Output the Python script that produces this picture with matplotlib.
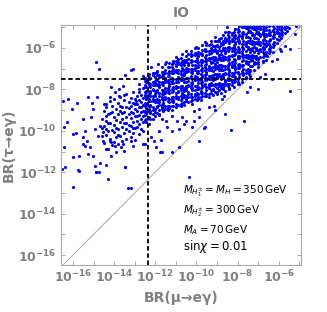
import numpy as np
import matplotlib.pyplot as plt
from matplotlib.ticker import FixedLocator, FuncFormatter

plt.rcParams['mathtext.fontset'] = 'dejavusans'

# values are log10 of the branching ratios
# left part of the cloud, in columns (one x per column)
left_x = [-14.6, -14.5, -14.4, -14.3, -14.2, -14.1, -14.0, -13.9, -13.8, -13.7,
          -13.6, -13.5, -13.4, -13.3, -13.2, -13.1, -13.0, -12.9, -12.8, -12.7,
          -12.6]
left_y = [
    [-9.43, -10.27, -9.88],
    [-9.04, -9.76, -10.61, -8.72],
    [-8.83, -9.52, -10.18, -9.27],
    [-9.21, -10.03, -10.87, -9.64],
    [-8.58, -9.63, -10.41, -9.12],
    [-9.07, -9.94, -10.69, -8.81],
    [-8.47, -9.32, -10.04, -10.53, -9.71],
    [-8.93, -9.48, -10.29, -9.86],
    [-8.66, -9.21, -9.93, -10.62, -10.18],
    [-8.38, -9.04, -9.57, -10.24, -8.79],
    [-8.84, -9.41, -9.82, -10.47, -9.13],
    [-8.53, -9.08, -9.63, -10.12, -8.26],
    [-8.22, -8.87, -9.34, -9.91, -10.38, -9.62],
    [-8.61, -9.17, -9.74, -10.02, -8.92],
    [-8.43, -8.81, -9.38, -9.79, -10.31, -9.07],
    [-8.12, -8.68, -9.13, -9.57, -10.09, -9.84],
    [-8.48, -8.93, -9.27, -9.88, -10.46, -8.71],
    [-8.31, -8.72, -9.03, -9.51, -9.82, -9.27],
    [-7.98, -8.52, -8.87, -9.23, -9.68, -10.17],
    [-8.27, -8.63, -9.08, -9.42, -9.91, -8.84],
    [-7.93, -8.41, -8.77, -9.28, -9.59, -10.02, -9.04],
]

# dense band, in columns
band_x = [-12.52, -12.43, -12.31, -12.24, -12.09, -12.02, -11.91, -11.83, -11.69, -11.62,
          -11.51, -11.38, -11.32, -11.19, -11.12, -10.98, -10.91, -10.77, -10.71, -10.62,
          -10.49, -10.41, -10.28, -10.22, -10.08, -9.99, -9.92, -9.78, -9.71, -9.59,
          -9.52, -9.38, -9.31, -9.21, -9.09, -9.02, -8.88, -8.81, -8.69, -8.62,
          -8.48, -8.41, -8.29, -8.19, -8.12, -7.98, -7.91, -7.79, -7.72, -7.58,
          -7.51, -7.39, -7.32, -7.18, -7.11, -6.99, -6.92, -6.78, -6.71, -6.61,
          -6.48, -6.41, -6.29, -6.22, -6.08, -6.01, -5.89, -5.82, -5.69, -5.61,
          -5.49]
band_y = [
    [-9.49, -9.24, -9.11, -9.02, -8.81, -8.65, -8.37, -8.26, -8.14, -7.87, -7.79, -7.60, -7.45],
    [-9.57, -9.45, -9.18, -9.10, -8.91, -8.76, -8.45, -8.35, -8.13, -8.06, -7.88, -7.63, -7.50],
    [-9.32, -9.04, -8.93, -8.81, -8.54, -8.46, -8.27, -8.12, -7.81, -7.71, -7.49, -7.42, -7.24],
    [-9.44, -9.13, -9.03, -8.81, -8.74, -8.56, -8.31, -8.18, -8.09, -7.88, -7.72, -7.44],
    [-9.20, -8.99, -8.83, -8.55, -8.44, -8.32, -8.05, -7.97, -7.78, -7.63, -7.32, -7.22],
    [-9.28, -9.09, -8.94, -8.63, -8.53, -8.31, -8.24, -8.06, -7.81, -7.68, -7.59, -7.38, -7.22],
    [-9.13, -8.86, -8.78, -8.59, -8.44, -8.13, -8.03, -7.81, -7.74, -7.56, -7.31, -7.18, -7.09],
    [-9.25, -9.18, -9.00, -8.75, -8.62, -8.53, -8.32, -8.16, -7.88, -7.77, -7.65, -7.38, -7.30],
    [-8.97, -8.86, -8.74, -8.47, -8.39, -8.20, -8.05, -7.74, -7.64, -7.42, -7.35, -7.17, -6.92],
    [-9.06, -8.96, -8.74, -8.67, -8.49, -8.24, -8.11, -8.02, -7.81, -7.65, -7.37, -7.26, -7.14],
    [-8.94, -8.79, -8.48, -8.38, -8.16, -8.09, -7.91, -7.66, -7.53, -7.44, -7.23, -7.07, -6.79],
    [-9.01, -8.88, -8.79, -8.58, -8.42, -8.14, -8.03, -7.91, -7.64, -7.56, -7.37, -7.22, -6.91],
    [-8.88, -8.80, -8.61, -8.46, -8.15, -8.05, -7.83, -7.76, -7.58, -7.33, -7.20, -7.11, -6.90, -6.74],
    [-9.00, -8.82, -8.57, -8.44, -8.35, -8.14, -7.98, -7.70, -7.59, -7.47, -7.20, -7.12, -6.93, -6.78],
    [-8.82, -8.60, -8.53, -8.35, -8.10, -7.97, -7.88, -7.67, -7.51, -7.23, -7.12, -7.00, -6.73, -6.65],
    [-8.85, -8.69, -8.41, -8.30, -8.18, -7.91, -7.83, -7.64, -7.49, -7.18, -7.08, -6.86, -6.79, -6.61],
    [-8.77, -8.46, -8.36, -8.14, -8.07, -7.89, -7.64, -7.51, -7.42, -7.21, -7.05, -6.77, -6.66, -6.54],
    [-8.79, -8.70, -8.49, -8.33, -8.05, -7.94, -7.82, -7.55, -7.47, -7.28, -7.13, -6.82, -6.72, -6.50],
    [-8.66, -8.41, -8.28, -8.19, -7.98, -7.82, -7.54, -7.43, -7.31, -7.04, -6.96, -6.77, -6.62, -6.31],
    [-8.74, -8.62, -8.35, -8.27, -8.08, -7.93, -7.62, -7.52, -7.30, -7.23, -7.05, -6.80, -6.67, -6.58],
    [-8.55, -8.48, -8.30, -8.05, -7.92, -7.83, -7.62, -7.46, -7.18, -7.07, -6.95, -6.68, -6.60, -6.41],
    [-8.63, -8.35, -8.24, -8.12, -7.85, -7.77, -7.58, -7.43, -7.12, -7.02, -6.80, -6.73, -6.55, -6.30],
    [-8.58, -8.37, -8.21, -7.93, -7.82, -7.70, -7.43, -7.35, -7.16, -7.01, -6.70, -6.60, -6.38, -6.31, -6.13],
    [-8.70, -8.51, -8.36, -8.05, -7.95, -7.73, -7.66, -7.48, -7.23, -7.10, -7.01, -6.80, -6.64, -6.36],
    [-8.44, -8.31, -8.22, -8.01, -7.85, -7.57, -7.46, -7.34, -7.07, -6.99, -6.80, -6.65, -6.34, -6.24, -6.02],
    [-8.51, -8.24, -8.16, -7.97, -7.82, -7.51, -7.41, -7.19, -7.12, -6.94, -6.69, -6.56, -6.47, -6.26],
    [-8.46, -8.35, -8.23, -7.96, -7.88, -7.69, -7.54, -7.23, -7.13, -6.91, -6.84, -6.66, -6.41, -6.28, -6.19, -5.98],
    [-8.49, -8.39, -8.17, -8.10, -7.92, -7.67, -7.54, -7.45, -7.24, -7.08, -6.80, -6.69, -6.57, -6.30, -6.22],
    [-8.33, -8.17, -7.89, -7.78, -7.66, -7.39, -7.31, -7.12, -6.97, -6.66, -6.56, -6.34, -6.27, -6.09, -5.84],
    [-8.32, -8.17, -7.86, -7.76, -7.54, -7.47, -7.29, -7.04, -6.91, -6.82, -6.61, -6.45, -6.17, -6.06],
    [-8.30, -8.22, -8.03, -7.88, -7.57, -7.47, -7.25, -7.18, -7.00, -6.75, -6.62, -6.53, -6.32, -6.16, -5.88, -5.77],
    [-8.38, -8.20, -7.95, -7.82, -7.73, -7.52, -7.36, -7.08, -6.97, -6.85, -6.58, -6.50, -6.31, -6.16, -5.85],
    [-8.17, -8.05, -7.78, -7.70, -7.51, -7.36, -7.05, -6.95, -6.73, -6.66, -6.48, -6.23, -6.10, -6.01, -5.80, -5.64],
    [-8.25, -8.03, -7.96, -7.78, -7.53, -7.40, -7.31, -7.10, -6.94, -6.66, -6.55, -6.43, -6.16, -6.08, -5.89],
    [-8.14, -7.83, -7.73, -7.51, -7.44, -7.26, -7.01, -6.88, -6.79, -6.58, -6.42, -6.14, -6.03, -5.91, -5.64],
    [-8.21, -8.12, -7.91, -7.75, -7.47, -7.36, -7.24, -6.97, -6.89, -6.70, -6.55, -6.24, -6.14, -5.92, -5.85, -5.67],
    [-8.02, -7.83, -7.68, -7.37, -7.27, -7.05, -6.98, -6.80, -6.55, -6.42, -6.33, -6.12, -5.96, -5.68, -5.57],
    [-8.19, -7.94, -7.81, -7.72, -7.51, -7.35, -7.07, -6.96, -6.84, -6.57, -6.49, -6.30, -6.15, -5.84, -5.74, -5.52],
    [-7.97, -7.90, -7.72, -7.47, -7.34, -7.25, -7.04, -6.88, -6.60, -6.49, -6.37, -6.10, -6.02, -5.83, -5.68, -5.37],
    [-8.06, -7.78, -7.67, -7.55, -7.28, -7.20, -7.01, -6.86, -6.55, -6.45, -6.23, -6.16, -5.98, -5.73, -5.60, -5.51],
    [-7.85, -7.75, -7.53, -7.46, -7.28, -7.03, -6.90, -6.81, -6.60, -6.44, -6.16, -6.05, -5.93, -5.66, -5.58, -5.39, -5.24],
    [-7.94, -7.73, -7.57, -7.29, -7.18, -7.06, -6.79, -6.71, -6.52, -6.37, -6.06, -5.96, -5.74, -5.67, -5.49, -5.24],
    [-7.78, -7.65, -7.56, -7.35, -7.19, -6.91, -6.80, -6.68, -6.41, -6.33, -6.14, -5.99, -5.68, -5.58, -5.36, -5.29],
    [-7.90, -7.63, -7.55, -7.36, -7.21, -6.90, -6.80, -6.58, -6.51, -6.33, -6.08, -5.95, -5.86, -5.65, -5.49, -5.21],
    [-7.59, -7.41, -7.16, -7.03, -6.94, -6.73, -6.57, -6.29, -6.18, -6.06, -5.79, -5.71, -5.52, -5.37, -5.06],
    [-7.73, -7.62, -7.50, -7.23, -7.15, -6.96, -6.81, -6.50, -6.40, -6.18, -6.11, -5.93, -5.68, -5.55, -5.46, -5.25, -5.09],
    [-7.42, -7.26, -6.98, -6.87, -6.75, -6.48, -6.40, -6.21, -6.06, -5.75, -5.65, -5.43, -5.36, -5.18, -4.93],
    [-7.66, -7.51, -7.20, -7.10, -6.88, -6.81, -6.63, -6.38, -6.25, -6.16, -5.95, -5.79, -5.51, -5.40, -5.28, -5.01],
    [-7.30, -7.21, -7.00, -6.84, -6.56, -6.45, -6.33, -6.06, -5.98, -5.79, -5.64, -5.33, -5.23, -5.01, -4.94],
    [-7.47, -7.39, -7.20, -7.05, -6.74, -6.64, -6.42, -6.35, -6.17, -5.92, -5.79, -5.70, -5.49, -5.33, -5.05, -4.94],
    [-7.15, -7.03, -6.76, -6.68, -6.49, -6.34, -6.03, -5.93, -5.71, -5.64, -5.46, -5.21, -5.08, -4.99],
    [-7.34, -7.12, -7.05, -6.87, -6.62, -6.49, -6.40, -6.19, -6.03, -5.75, -5.64, -5.52, -5.25, -5.17, -4.98],
    [-6.87, -6.59, -6.48, -6.36, -6.09, -6.01, -5.82, -5.67, -5.36, -5.26, -5.04, -4.97],
    [-7.08, -6.77, -6.67, -6.45, -6.38, -6.20, -5.95, -5.82, -5.73, -5.52, -5.36, -5.08, -4.97],
    [-6.74, -6.55, -6.40, -6.09, -5.99, -5.77, -5.70, -5.52, -5.27, -5.14, -5.05, -4.91],
    [-6.93, -6.68, -6.55, -6.46, -6.25, -6.09, -5.81, -5.70, -5.58, -5.31, -5.23, -5.04, -4.91],
    [-6.42, -6.15, -6.07, -5.88, -5.73, -5.42, -5.32, -5.10, -5.03, -4.92],
    [-6.69, -6.62, -6.44, -6.19, -6.06, -5.97, -5.76, -5.60, -5.32, -5.21, -5.09, -4.93],
    [-6.38, -6.28, -6.06, -5.99, -5.81, -5.56, -5.43, -5.34, -5.13, -4.97],
    [-6.56, -6.35, -6.19, -5.91, -5.80, -5.68, -5.41, -5.33, -5.14, -4.99],
    [-6.25, -6.12, -6.03, -5.82, -5.66, -5.38, -5.27, -5.15, -4.93],
    [-6.13, -6.02, -5.90, -5.63, -5.55, -5.36, -5.21, -4.90],
    [-5.97, -5.82, -5.51, -5.41, -5.19, -5.12, -4.94],
    [-5.88, -5.70, -5.45, -5.32, -5.23, -5.02],
    [-5.74, -5.58, -5.30, -5.19, -5.07, -4.93],
    [-5.62, -5.43, -5.28, -5.06, -4.96],
    [-5.51, -5.33, -5.14, -4.95],
    [-5.38, -5.22, -5.03],
    [-5.27, -5.08, -4.92],
    [-5.16, -4.97],
    [-5.04],
]

# single points outside the band
sparse_x = [-14.89, -14.75, -16.50, -16.23, -15.82, -15.26, -15.07, -14.83, -14.22, -14.14,
            -13.98, -13.77, -13.58, -13.49, -13.17, -14.38, -13.74, -12.77, -12.77, -12.93,
            -16.43, -16.06, -16.27, -15.86, -15.98, -16.43, -15.98, -15.70, -16.54, -16.40,
            -15.74, -15.53, -15.34, -15.42, -15.18, -15.02, -15.26, -15.50, -15.42, -15.53,
            -15.10, -15.02, -14.94, -14.78, -14.54, -14.70, -14.38, -14.89, -14.73, -14.94,
            -14.70, -14.30, -14.14, -13.98, -13.89, -13.65, -13.49, -14.22, -13.58, -13.17,
            -14.38, -13.50, -12.61, -13.09, -14.54, -14.14, -15.98, -13.33, -13.17, -14.38,
            -15.71, -14.86, -13.45,
            -12.21, -12.05, -11.73, -11.97, -11.77, -11.17, -12.48, -11.41, -11.17, -10.84,
            -10.60, -10.20, -10.12, -9.64, -9.88, -9.40, -9.08, -10.36, -12.13, -11.65,
            -10.92, -10.68, -12.29, -11.81, -11.49, -11.17, -10.52, -10.12, -9.88, -9.56,
            -9.16, -8.76, -8.30, -7.71, -8.60, -9.88, -10.84, -11.65,
            -5.46, -5.87, -6.27, -6.59, -6.99, -6.75, -6.11, -7.47, -6.91, -6.35,
            -5.46, -7.39, -6.99, -7.55, -8.43, -8.67, -8.92, -8.59, -7.95, -5.71,
            -5.22, -5.14, -6.51, -6.67, -6.35, -5.95, -5.70,
            -11.00, -11.49, -11.89, -12.21, -13.09, -10.52, -10.04, -9.56, -9.08, -8.60,
            -8.11, -7.63, -8.52, -12.62, -12.55]
sparse_y = [-6.69, -7.01, -8.58, -8.46, -8.67, -8.38, -8.67, -8.38, -8.38, -7.90,
            -8.14, -7.98, -7.82, -7.29, -7.05, -8.71, -8.30, -7.74, -8.14, -8.54,
            -9.83, -8.95, -9.59, -10.12, -10.15, -10.80, -11.25, -11.23, -11.85, -11.76,
            -11.88, -10.64, -10.48, -10.72, -10.80, -11.20, -11.12, -10.31, -9.99, -9.43,
            -9.35, -8.95, -9.91, -10.24, -10.07, -9.75, -9.91, -12.01, -12.01, -11.69,
            -11.53, -12.33, -11.20, -10.72, -11.04, -10.80, -11.76, -10.48, -10.64, -10.48,
            -10.88, -10.96, -10.64, -10.72, -10.48, -10.56, -12.70, -12.76, -12.76, -11.65,
            -11.93, -11.98, -11.73,
            -10.31, -10.48, -10.44, -10.80, -11.04, -11.01, -10.64, -9.83, -9.99, -9.91,
            -9.67, -9.83, -9.51, -9.86, -9.35, -8.86, -9.00, -12.22, -9.43, -9.43,
            -9.51, -9.35, -9.67, -9.99, -9.51, -9.27, -9.51, -9.03, -8.95, -9.83,
            -8.79, -8.46, -9.96, -9.51, -9.19, -10.48, -10.80, -11.04,
            -6.05, -6.16, -6.21, -6.37, -6.77, -6.61, -6.53, -7.26, -7.42, -7.50,
            -8.06, -7.90, -7.98, -8.14, -7.98, -8.30, -7.82, -7.58, -7.74, -5.00,
            -5.32, -4.92, -5.81, -7.26, -6.61, -6.05, -5.89,
            -6.45, -6.69, -6.77, -6.93, -7.01, -6.13, -5.97, -5.73, -5.48, -5.24,
            -5.08, -4.92, -5.00, -7.35, -7.45]

meg_bound = 4.2e-13   # BR(mu -> e gamma) limit
tau_bound = 3.3e-8    # BR(tau -> e gamma) limit
label_exp = [-16, -14, -12, -10, -8, -6]

lx, ly = list(sparse_x), list(sparse_y)
for cx, cy in ((left_x, left_y), (band_x, band_y)):
    for x, ys in zip(cx, cy):
        lx += [x] * len(ys)
        ly += ys

grey = '#808080'

fig = plt.figure(figsize=(3.27, 3.12), dpi=100)
ax = fig.add_axes([0.1865, 0.1506, 0.734, 0.7693])
ax.set_xscale('log')
ax.set_yscale('log')
ax.set_xlim(10**-16.58, 10**-4.92)
ax.set_ylim(10**-16.48, 10**-4.89)

ax.plot([1e-18, 1e-3], [1e-18, 1e-3], color='#a8a8a8', lw=0.7, zorder=1)
ax.scatter(10**np.array(lx), 10**np.array(ly), s=5, c='#0000ff', linewidths=0, zorder=2)
ax.axvline(meg_bound, color='k', ls=(0, (2.5, 1.5)), lw=1.3, zorder=3)
ax.axhline(tau_bound, color='k', ls=(0, (2.5, 1.5)), lw=1.3, zorder=3)

decades = [10.0**e for e in range(-17, -3)]
fmt = FuncFormatter(lambda v, p: r'$\mathbf{10^{%d}}$' % round(np.log10(v))
                    if round(np.log10(v)) in label_exp else '')
for axis in (ax.xaxis, ax.yaxis):
    axis.set_major_locator(FixedLocator(decades))
    axis.set_minor_locator(FixedLocator([]))
    axis.set_major_formatter(fmt)
ax.tick_params(which='both', direction='in', top=True, right=True, length=3,
               width=0.6, color='#999999', labelcolor=grey, labelsize=9, pad=3)
for s in ax.spines.values():
    s.set_color('#aaaaaa')
    s.set_linewidth(0.8)

ax.set_xlabel('BR(μ→eγ)', fontsize=10, fontweight='bold', color=grey, labelpad=4)
ax.set_ylabel('BR(τ→eγ)', fontsize=10, fontweight='bold', color=grey, labelpad=2)
ax.set_title('IO', fontsize=10, fontweight='bold', color=grey, pad=6)

ax.text(0.508, 0.308, r'$M_{H_1^{\pm}} = M_H = 350\,\mathrm{GeV}$', transform=ax.transAxes,
        fontsize=7.5, va='center')
ax.text(0.508, 0.225, r'$M_{H_2^{\pm}} = 300\,\mathrm{GeV}$', transform=ax.transAxes,
        fontsize=7.5, va='center')
ax.text(0.508, 0.146, r'$M_A = 70\,\mathrm{GeV}$', transform=ax.transAxes,
        fontsize=7.5, va='center')
ax.text(0.508, 0.079, r'$\mathrm{sin}\chi = 0.01$', transform=ax.transAxes,
        fontsize=8.5, va='center')

fig.savefig('out.png', dpi=100)
